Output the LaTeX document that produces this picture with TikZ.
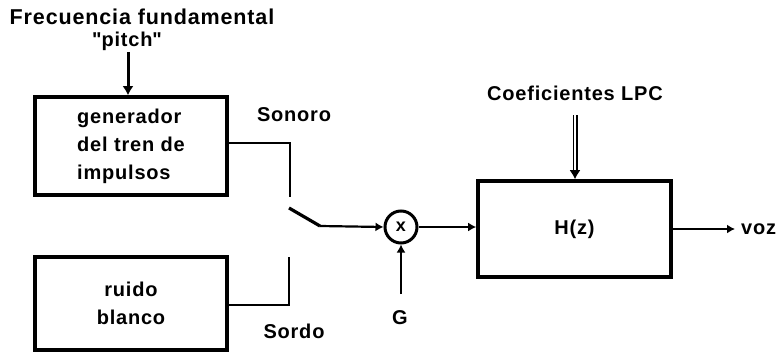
\documentclass[tikz,border=0pt]{standalone}
\usepackage{fontspec}
\setmainfont{Liberation Sans}[LetterSpace=4]
\usetikzlibrary{arrows.meta}
\begin{document}
\begin{tikzpicture}[x=1pt,y=-1pt,
  lbl/.style={font=\fontsize{20}{26}\selectfont\bfseries, inner sep=0pt, align=center},
  blockbox/.style={draw, line width=3.6pt, inner sep=0pt, font=\fontsize{20}{28}\selectfont\bfseries, align=left},
  wire/.style={line width=2.2pt},
  arr/.style={wire, -{Latex[length=8pt,width=9pt]}},
]
\useasboundingbox (0,0) rectangle (779,353);
% labels
\node[lbl, font=\fontsize{21.5}{26}\selectfont\bfseries] (freq) at (142,17) {Frecuencia fundamental};
\node[lbl] (pitch) at (127,41) {\textquotedbl pitch\textquotedbl};
\node[lbl] (sonoro) at (294,115) {Sonoro};
\node[lbl] (sordo) at (294,331) {Sordo};
\node[lbl] (lpc) at (575,93) {Coeficientes LPC};
\node[lbl] (g) at (400,318) {G};
\node[lbl,anchor=west] (voz) at (741,229) {voz};
% blocks
\node[blockbox, minimum width=192pt, minimum height=98pt] (gen) at (131,146)
  {generador\\del tren de\\impulsos};
\node[blockbox, minimum width=192pt, minimum height=93pt, align=center] (ruido) at (131,303.5)
  {ruido\\blanco};
\node[blockbox, minimum width=193pt, minimum height=96pt, align=center] (h) at (574.5,229)
  {H(z)};
\node[draw, circle, line width=3pt, minimum size=32pt, inner sep=0pt,
  font=\fontsize{18}{18}\selectfont\bfseries] (mult) at (401,227) {x};
% coordinates
\coordinate (pitchtop) at (128,52);
\coordinate (genc1) at (290,143);
\coordinate (genc2) at (290,197);
\coordinate (ruc1) at (289,305);
\coordinate (ruc2) at (289,257);
\coordinate (sw1) at (289,208);
\coordinate (sw2) at (320,226);
\coordinate (gend) at (401,294);
\coordinate (lpctop) at (575,115);
\coordinate (vozend) at (735,229);
% connectors
\draw[line width=3pt, -{Latex[length=9pt,width=11pt]}] (pitchtop) -- (gen.north -| pitchtop);
\draw[wire, line width=2.6pt] (gen.east |- genc1) -- (genc1) -- (genc2);
\draw[wire, line width=2.6pt] (ruido.east |- ruc1) -- (ruc1) -- (ruc2);
\draw[line width=3.2pt] (sw1) -- (sw2);
\draw[arr] (sw2) -- (mult.west);
\draw[arr] (gend) -- (mult.south);
\draw[arr] (mult.east) -- (h.west |- mult.east);
\draw[line width=1.4pt, double, double distance=2.2pt, -{Latex[length=9pt,width=11pt]}] (lpctop) -- (h.north -| lpctop);
\draw[arr] (h.east |- vozend) -- (vozend);
\end{tikzpicture}
\end{document}
